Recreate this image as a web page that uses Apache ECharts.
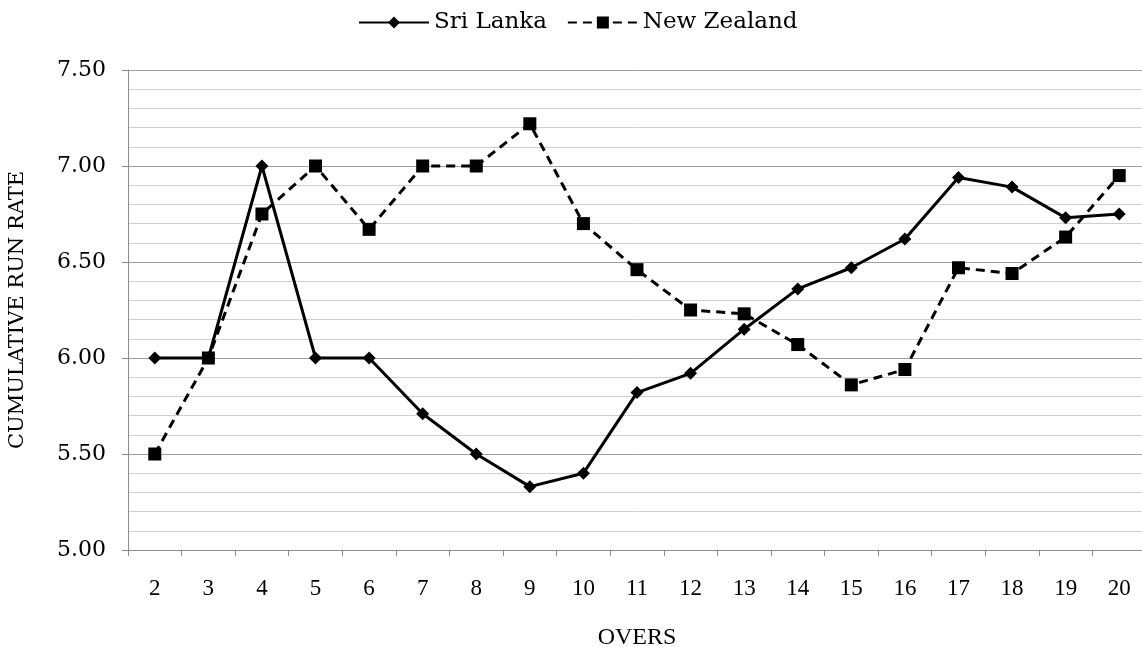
<!DOCTYPE html>
<html><head><meta charset="utf-8">
<script src="https://cdn.jsdelivr.net/npm/echarts@6/dist/echarts.min.js"></script>
<style>html,body{margin:0;padding:0;background:#fff}#c{width:1142px;height:647px}</style>
</head><body><div id="c"></div>
<script>
const overs = ['2','3','4','5','6','7','8','9','10','11','12','13','14','15','16','17','18','19','20'];
const sriLanka = [6.00,6.00,7.00,6.00,6.00,5.71,5.50,5.33,5.40,5.82,5.92,6.15,6.36,6.47,6.62,6.94,6.89,6.73,6.75];
const newZealand = [5.50,6.00,6.75,7.00,6.67,7.00,7.00,7.22,6.70,6.46,6.25,6.23,6.07,5.86,5.94,6.47,6.44,6.63,6.95];
const yTicks = {min:5.0, max:7.5, interval:0.5};

const chart = echarts.init(document.getElementById('c'));
chart.setOption({
  animation:false,
  backgroundColor:'#fff',
  legend:{
    top:6, left:353, itemGap:20, itemWidth:70, itemHeight:15,
    textStyle:{fontFamily:'DejaVu Serif', fontSize:23, color:'#000'},
    data:['Sri Lanka','New Zealand']
  },
  grid:{left:128, top:70, width:1018, height:480, containLabel:false, outerBoundsMode:'none'},
  xAxis:{
    type:'category', data:overs, boundaryGap:true,
    name:'OVERS', nameLocation:'middle', nameGap:76,
    nameTextStyle:{fontFamily:'Liberation Serif', fontSize:24, color:'#000'},
    axisLine:{lineStyle:{color:'#8c8c8c', width:1}},
    axisTick:{show:true, length:6, lineStyle:{color:'#8c8c8c'}},
    axisLabel:{margin:27, fontFamily:'Liberation Serif', fontSize:23, color:'#000'}
  },
  yAxis:{
    type:'value', min:yTicks.min, max:yTicks.max, interval:yTicks.interval,
    name:'CUMULATIVE RUN RATE', nameLocation:'middle', nameGap:100, nameRotate:90,
    nameTextStyle:{fontFamily:'DejaVu Serif', fontSize:21, color:'#000'},
    axisLine:{show:true, lineStyle:{color:'#8c8c8c', width:1}},
    axisTick:{show:true, length:6, lineStyle:{color:'#8c8c8c'}},
    axisLabel:{margin:22, fontFamily:'DejaVu Serif', fontSize:22, color:'#000', formatter:v=>v.toFixed(2)},
    splitLine:{show:true, lineStyle:{color:'#a0a0a0', width:1}},
    minorTick:{show:false, splitNumber:5},
    minorSplitLine:{show:true, lineStyle:{color:'#d0d0d0', width:1}}
  },
  series:[
    {name:'Sri Lanka', type:'line', data:sriLanka, symbol:'diamond', symbolSize:13,
     lineStyle:{color:'#000', width:3, type:'solid'}, itemStyle:{color:'#000'}},
    {name:'New Zealand', type:'line', data:newZealand, symbol:'rect', symbolSize:13,
     lineStyle:{color:'#000', width:3, type:[9,6]}, itemStyle:{color:'#000'}}
  ]
});
</script></body></html>
